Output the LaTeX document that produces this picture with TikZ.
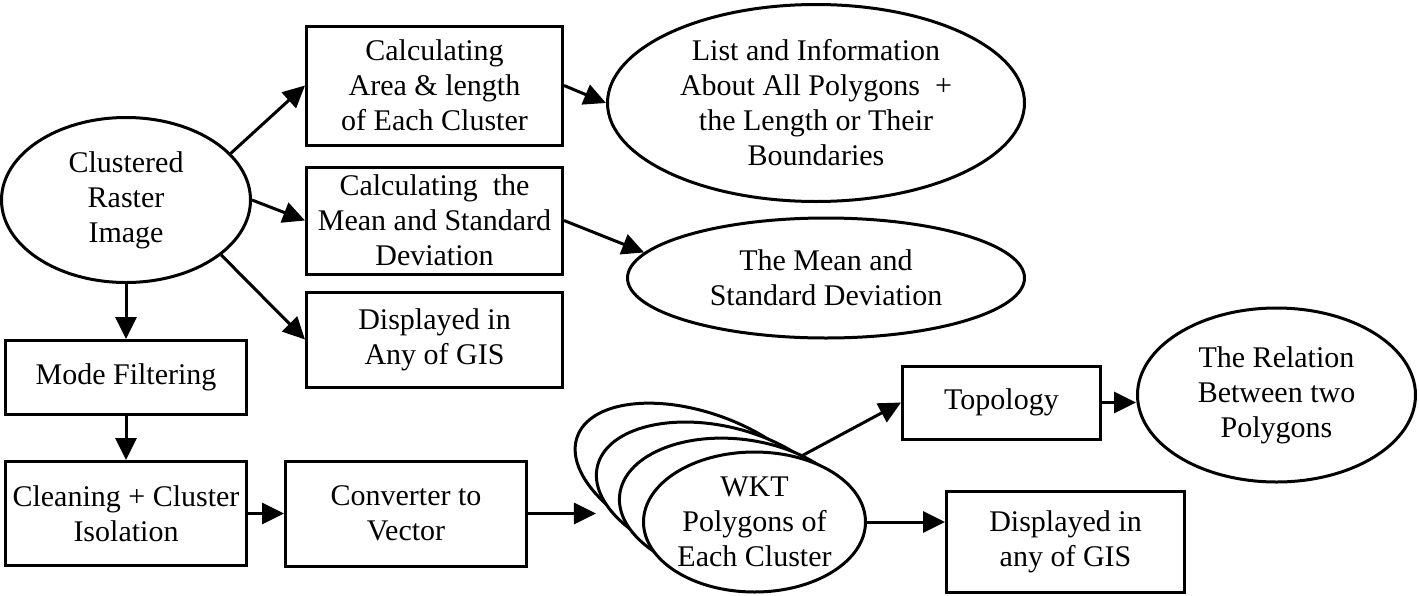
\documentclass[tikz,border=0pt]{standalone}
\usepackage{fontspec}
\setmainfont{Liberation Serif}
\usetikzlibrary{arrows.meta,positioning,shapes.geometric}
\tikzstyle{process}=[
	rectangle,
	draw,
	line width=1.5pt,
	align=center,
	inner sep=0pt
]
\tikzstyle{result}=[
	ellipse,
	draw,
	fill=white,
	line width=1.5pt,
	align=center,
	inner sep=0pt
]
\tikzstyle{flow}=[
	->,
	>={Triangle[length=11pt,width=10.5pt]},
	line width=1.5pt
]

\begin{document}
\begin{tikzpicture}[font=\fontsize{15}{17.5}\selectfont]
\useasboundingbox (0,0) rectangle (709.5pt,-297.5pt);
\node [result, minimum width=124.5pt, minimum height=82.5pt] (Clustered) at (63pt,-100pt) {Clustered\\Raster\\Image};
\node [process, minimum width=128pt, minimum height=53.5pt] (CalcMean)[right=26.5pt of Clustered, yshift=-10.25pt] {Calculating~ the\\Mean and Standard\\Deviation};
\node [process, minimum width=128pt, minimum height=59.5pt] (CalcArea)[above=9.5pt of CalcMean] {Calculating\\Area \& length\\of Each Cluster};
\node [process, minimum width=128pt, minimum height=47.5pt] (GisShow)[below=7.5pt of CalcMean] {Displayed in\\Any of GIS};
\node [result, minimum width=208.5pt, minimum height=98.5pt] (ListInfo)[right=21pt of CalcArea, yshift=-8.75pt] {List and Information\\About All Polygons~ +\\the Length or Their\\Boundaries};
\node [result, minimum width=198.5pt, minimum height=60pt] (MeanDev)[right=31pt of CalcMean, yshift=-28.75pt] {The Mean and\\Standard Deviation};
\node [process, minimum width=120.5pt, minimum height=37pt] (ModeFilter)[below=27.5pt of Clustered] {Mode Filtering};
\node [process, minimum width=120.5pt, minimum height=52pt] (Cleaning)[below=22pt of ModeFilter] {Cleaning + Cluster\\Isolation};
\node [process, minimum width=120.5pt, minimum height=52.5pt] (Converter)[right=18pt of Cleaning] {Converter to\\Vector};
% stack of polygon ellipses
\coordinate [right=113.25pt of Converter, yshift=-4.25pt] (WktCentre);
\node [result, rotate=-20, minimum width=130pt, minimum height=68pt] (WktBack) at ([shift={(-27.5pt,20.5pt)}]WktCentre) {};
\node [result, rotate=-13.3, minimum width=123.7pt, minimum height=68.7pt] (WktMid) at ([shift={(-18.35pt,13.65pt)}]WktCentre) {};
\node [result, rotate=-6.7, minimum width=117.3pt, minimum height=69.3pt] (WktNear) at ([shift={(-9.15pt,6.85pt)}]WktCentre) {};
\node [result, minimum width=111pt, minimum height=70pt] (Wkt) at (WktCentre) {WKT\\Polygons of\\Each Cluster};
\node [process, minimum width=119pt, minimum height=50.5pt] (GisShowB)[right=39pt of Wkt, yshift=-9.75pt] {Displayed in\\any of GIS};
\node [process, minimum width=99pt, minimum height=36.5pt] (Topology)[above=24.5pt of GisShowB, xshift=-32pt] {Topology};
\node [result, minimum width=139pt, minimum height=87pt] (Relation)[right=17pt of Topology, yshift=3.75pt] {The Relation\\Between two\\Polygons};

\draw [flow] (Clustered.24) -- (CalcArea.west);
\draw [flow] (Clustered.east) -- (CalcMean.west);
\draw [flow] (Clustered.-30) -- (GisShow.west);
\draw [flow] (CalcArea.east) -- (ListInfo.west);
\draw [flow] (CalcMean.east) -- (MeanDev.172);
\draw [flow] (Clustered) -- (ModeFilter);
\draw [flow] (ModeFilter) -- (Cleaning);
\draw [flow] (Cleaning) -- (Converter);
\draw [flow] (Converter) -- (Converter -| WktMid.west);
\draw [flow] (Wkt.east) -- (Wkt.east -| GisShowB.west);
\draw [flow] (Wkt.55) -- (Topology.west);
\draw [flow] (Topology.east) -- (Topology.east -| Relation.west);
\end{tikzpicture}
\end{document}
